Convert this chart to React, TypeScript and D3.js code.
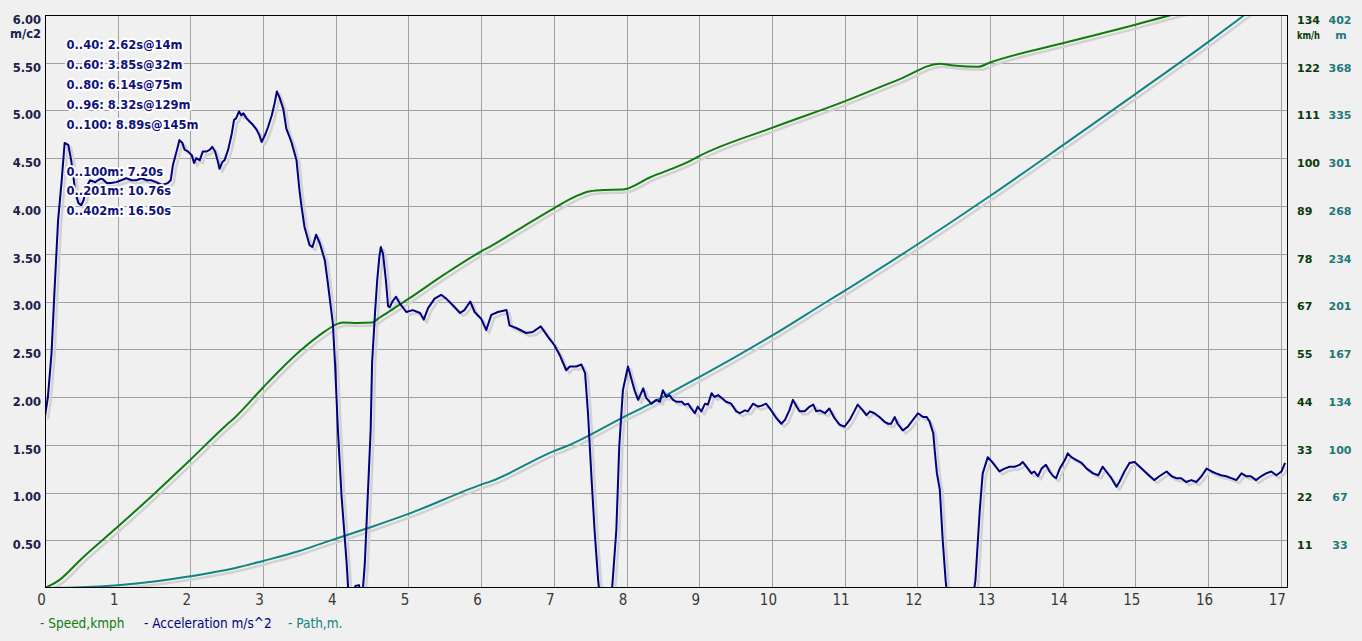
import React from "react";
import * as d3 from "d3";

const W = 1362;
const H = 641;

// ---- data ----
const timeTicks = [0, 1, 2, 3, 4, 5, 6, 7, 8, 9, 10, 11, 12, 13, 14, 15, 16, 17];
const accelTicks = [0.5, 1, 1.5, 2, 2.5, 3, 3.5, 4, 4.5, 5, 5.5, 6];
const speedTickLabels = ["11", "22", "33", "44", "55", "67", "78", "89", "100", "111", "122", "134"];
const pathTickLabels = ["33", "67", "100", "134", "167", "201", "234", "268", "301", "335", "368", "402"];
const splitLabels = [
  "0..40: 2.62s@14m",
  "0..60: 3.85s@32m",
  "0..80: 6.14s@75m",
  "0..96: 8.32s@129m",
  "0..100: 8.89s@145m",
];
const distanceLabels = ["0..100m: 7.20s", "0..201m: 10.76s", "0..402m: 16.50s"];
const legendLabels = ["- Speed,kmph", "- Acceleration m/s^2", "- Path,m."];

const speed: [number, number][] = [
  [0, 0], [0.2, 1.9], [0.5, 6.8], [1, 14.3], [1.5, 22], [2, 30], [2.5, 38.2], [2.62, 40],
  [3, 46.9], [3.5, 55.3], [3.85, 60], [4, 61.6], [4.1, 62.1], [4.3, 62], [4.5, 62.1],
  [4.6, 63.2], [5, 67.6], [5.5, 73.4], [6, 78.7], [6.14, 80], [6.5, 83.7], [7, 88.8],
  [7.3, 91.6], [7.5, 92.8], [7.7, 93.1], [7.95, 93.2], [8.32, 96], [8.89, 100], [9, 101],
  [10, 107.6], [11, 113.8], [11.76, 119], [12.31, 122.6], [12.5, 122.2], [12.84, 121.9],
  [13, 122.9], [14, 127.4], [15, 131.7], [15.47, 133.9], [16, 136], [17.1, 140.5],
];

const path: [number, number][] = [
  [0, 0], [0.5, 0.5], [1, 2], [1.5, 4.5], [2, 8.2], [2.62, 14], [3, 19], [3.5, 26],
  [3.85, 32], [4, 34.5], [4.5, 43], [5, 52], [6, 72.5], [6.14, 75], [7, 96], [7.2, 100],
  [8, 121], [8.32, 129], [8.89, 145], [9, 148], [10, 177], [10.76, 201], [11, 208.5],
  [12, 241], [13, 275], [14, 310.5], [15, 346.5], [16, 383], [16.5, 402], [17.1, 425],
];

const acceleration: [number, number][] = [
  [0, 1.8], [0.04, 2.0], [0.09, 2.46], [0.13, 3.1], [0.18, 3.85], [0.23, 4.27], [0.27, 4.66],
  [0.32, 4.64], [0.36, 4.48], [0.39, 4.31], [0.42, 4.13], [0.46, 4.03], [0.5, 4.01], [0.53, 4.06],
  [0.57, 4.2], [0.62, 4.27], [0.69, 4.25], [0.73, 4.27], [0.78, 4.29], [0.85, 4.24], [0.91, 4.24],
  [0.98, 4.25], [1.05, 4.27], [1.12, 4.29], [1.19, 4.27], [1.26, 4.27], [1.33, 4.29], [1.4, 4.27],
  [1.46, 4.27], [1.53, 4.25], [1.61, 4.22], [1.69, 4.24], [1.73, 4.27], [1.76, 4.43], [1.81, 4.57],
  [1.85, 4.69], [1.89, 4.66], [1.92, 4.59], [1.97, 4.57], [2.02, 4.53], [2.05, 4.45], [2.08, 4.5],
  [2.13, 4.48], [2.17, 4.57], [2.22, 4.57], [2.27, 4.59], [2.3, 4.62], [2.34, 4.57], [2.38, 4.46],
  [2.4, 4.39], [2.44, 4.46], [2.47, 4.48], [2.52, 4.59], [2.57, 4.76], [2.6, 4.9], [2.63, 4.92],
  [2.67, 4.99], [2.7, 4.95], [2.73, 4.97], [2.77, 4.92], [2.82, 4.88], [2.86, 4.85], [2.91, 4.8],
  [2.95, 4.74], [2.98, 4.67], [3.02, 4.73], [3.07, 4.83], [3.12, 4.95], [3.16, 5.08], [3.19, 5.2],
  [3.23, 5.13], [3.28, 5.01], [3.32, 4.81], [3.39, 4.67], [3.46, 4.48], [3.5, 4.17], [3.53, 3.99],
  [3.57, 3.78], [3.64, 3.59], [3.68, 3.57], [3.73, 3.7], [3.78, 3.61], [3.85, 3.43], [3.89, 3.2],
  [3.96, 2.77], [3.99, 2.35], [4.03, 1.65], [4.08, 0.96], [4.15, 0.26], [4.17, 0.0], [4.22, -0.15],
  [4.27, 0.02], [4.32, 0.03], [4.36, -0.15], [4.4, 0.26], [4.44, 0.96], [4.48, 1.65], [4.5, 2.36],
  [4.54, 2.88], [4.57, 3.22], [4.6, 3.47], [4.62, 3.57], [4.65, 3.5], [4.69, 3.22], [4.72, 2.95],
  [4.74, 2.94], [4.78, 3.0], [4.83, 3.05], [4.88, 2.98], [4.97, 2.89], [5.06, 2.91], [5.16, 2.88],
  [5.21, 2.81], [5.27, 2.93], [5.36, 3.03], [5.45, 3.07], [5.52, 3.03], [5.61, 2.96], [5.71, 2.88],
  [5.77, 2.91], [5.85, 3.0], [5.91, 2.89], [6.0, 2.82], [6.07, 2.7], [6.14, 2.86], [6.23, 2.89],
  [6.35, 2.91], [6.39, 2.75], [6.49, 2.72], [6.62, 2.67], [6.71, 2.68], [6.82, 2.74], [6.92, 2.63],
  [7.01, 2.54], [7.08, 2.44], [7.17, 2.28], [7.22, 2.32], [7.31, 2.32], [7.38, 2.34], [7.43, 2.25],
  [7.47, 1.83], [7.52, 1.13], [7.56, 0.61], [7.61, 0.08], [7.66, -0.3], [7.71, -0.5], [7.77, -0.3],
  [7.81, 0.08], [7.86, 0.61], [7.9, 1.48], [7.95, 2.07], [8.02, 2.32], [8.11, 2.07], [8.16, 1.97],
  [8.23, 2.09], [8.27, 1.99], [8.34, 1.93], [8.41, 1.97], [8.46, 1.95], [8.5, 2.07], [8.55, 2.0],
  [8.59, 2.02], [8.64, 1.97], [8.69, 1.95], [8.76, 1.95], [8.8, 1.92], [8.85, 1.93], [8.89, 1.88],
  [8.94, 1.83], [8.98, 1.9], [9.03, 1.85], [9.08, 1.93], [9.12, 1.92], [9.17, 2.04], [9.21, 2.0],
  [9.26, 2.02], [9.31, 1.99], [9.37, 1.95], [9.44, 1.93], [9.51, 1.85], [9.56, 1.83], [9.63, 1.86],
  [9.67, 1.85], [9.74, 1.93], [9.81, 1.9], [9.86, 1.91], [9.92, 1.93], [9.99, 1.86], [10.06, 1.78],
  [10.13, 1.72], [10.18, 1.76], [10.24, 1.86], [10.29, 1.97], [10.34, 1.9], [10.38, 1.85],
  [10.45, 1.85], [10.52, 1.9], [10.57, 1.92], [10.61, 1.85], [10.66, 1.86], [10.73, 1.83],
  [10.79, 1.88], [10.86, 1.78], [10.93, 1.71], [11.0, 1.69], [11.07, 1.76], [11.14, 1.86],
  [11.18, 1.92], [11.25, 1.86], [11.3, 1.81], [11.35, 1.85], [11.41, 1.83], [11.48, 1.79],
  [11.55, 1.74], [11.6, 1.72], [11.64, 1.72], [11.69, 1.79], [11.73, 1.72], [11.8, 1.65],
  [11.87, 1.69], [11.94, 1.76], [12.01, 1.83], [12.08, 1.79], [12.13, 1.79], [12.17, 1.74],
  [12.22, 1.62], [12.24, 1.44], [12.27, 1.2], [12.31, 1.03], [12.35, 0.5], [12.39, 0.08],
  [12.47, -0.5], [12.58, -0.8], [12.69, -0.5], [12.8, 0.08], [12.86, 0.82], [12.9, 1.2],
  [12.97, 1.37], [13.04, 1.31], [13.13, 1.22], [13.2, 1.25], [13.27, 1.27], [13.34, 1.27],
  [13.41, 1.29], [13.45, 1.32], [13.5, 1.27], [13.57, 1.2], [13.61, 1.22], [13.66, 1.17],
  [13.71, 1.25], [13.77, 1.29], [13.82, 1.22], [13.87, 1.17], [13.91, 1.15], [13.96, 1.25],
  [14.03, 1.34], [14.07, 1.41], [14.12, 1.37], [14.19, 1.34], [14.26, 1.31], [14.33, 1.25],
  [14.42, 1.2], [14.49, 1.18], [14.55, 1.27], [14.6, 1.22], [14.67, 1.15], [14.74, 1.06],
  [14.78, 1.11], [14.85, 1.22], [14.92, 1.31], [14.99, 1.32], [15.06, 1.27], [15.13, 1.22],
  [15.2, 1.17], [15.26, 1.13], [15.33, 1.17], [15.43, 1.22], [15.5, 1.17], [15.56, 1.15],
  [15.63, 1.15], [15.7, 1.11], [15.77, 1.13], [15.84, 1.11], [15.91, 1.17], [15.98, 1.25],
  [16.05, 1.22], [16.11, 1.2], [16.18, 1.18], [16.25, 1.17], [16.32, 1.15], [16.39, 1.13],
  [16.46, 1.2], [16.53, 1.17], [16.59, 1.17], [16.66, 1.13], [16.73, 1.17], [16.8, 1.2],
  [16.87, 1.22], [16.94, 1.18], [17.01, 1.22], [17.06, 1.31],
];

// ---- layout ----
const PL = 45;
const PR = 1288;
const PT = 15;
const PB = 588;

const BG = "#f0f0f0";
const GRID = "#a0a0a0";
const SHADOW = "#d2d2d2";
const C_SPEED = "#107c10";
const C_ACC = "#000080";
const C_PATH = "#108484";
const NUM_FONT = "'DejaVu Sans', Verdana, sans-serif";
const NARROW_FONT = "'DejaVu Sans Condensed', 'DejaVu Sans', sans-serif";

export default function App() {
  const x = d3.scaleLinear().domain([0, 17.1]).range([PL, PR]);
  const yA = d3.scaleLinear().domain([0, 6]).range([PB, PT]);
  const yS = d3.scaleLinear().domain([0, 134]).range([PB, PT]);
  const yP = d3.scaleLinear().domain([0, 402]).range([PB, PT]);

  const speedLine = d3.line<[number, number]>().x((d) => x(d[0])).y((d) => yS(d[1])).curve(d3.curveMonotoneX);
  const pathLine = d3.line<[number, number]>().x((d) => x(d[0])).y((d) => yP(d[1])).curve(d3.curveMonotoneX);
  const accLine = d3.line<[number, number]>().x((d) => x(d[0])).y((d) => yA(d[1])).curve(d3.curveLinear);

  const series = [
    { d: speedLine(speed) || "", color: C_SPEED },
    { d: pathLine(path) || "", color: C_PATH },
    { d: accLine(acceleration) || "", color: C_ACC },
  ];

  const legendX = [40, 144, 288];
  const legendColors = [C_SPEED, C_ACC, C_PATH];

  return (
    <svg
      width={W}
      height={H}
      viewBox={`0 0 ${W} ${H}`}
      style={{ position: "absolute", left: 0, top: 0, display: "block" }}
    >
      <defs>
        <clipPath id="plotClip">
          <rect x={PL} y={PT} width={PR - PL} height={PB - PT} />
        </clipPath>
      </defs>
      <rect x={0} y={0} width={W} height={H} fill={BG} />

      {/* grid */}
      <g shapeRendering="crispEdges">
        {timeTicks.filter((t) => t > 0).map((t) => (
          <line key={"vx" + t} x1={Math.round(x(t)) + 0.5} x2={Math.round(x(t)) + 0.5} y1={PT} y2={PB} stroke={GRID} strokeWidth={1} />
        ))}
        {accelTicks.filter((v) => v < 6).map((v) => (
          <line key={"hy" + v} x1={PL} x2={PR} y1={Math.round(yA(v)) + 0.5} y2={Math.round(yA(v)) + 0.5} stroke={GRID} strokeWidth={1} />
        ))}
      </g>

      {/* series with shadows */}
      <g clipPath="url(#plotClip)">
        {series.map((s, i) => (
          <path key={"sh" + i} d={s.d} transform="translate(3,3)" fill="none" stroke={SHADOW} strokeWidth={2.5} strokeLinejoin="round" />
        ))}
        {series.map((s, i) => (
          <path key={"ln" + i} d={s.d} fill="none" stroke={s.color} strokeWidth={2} strokeLinejoin="round" />
        ))}
      </g>

      {/* frame */}
      <rect x={PL + 0.5} y={PT + 0.5} width={PR - PL - 1} height={PB - PT - 1} fill="none" stroke="#000" strokeWidth={1.2} shapeRendering="crispEdges" />

      {/* left axis labels */}
      <g fontFamily={NUM_FONT} fontWeight="bold" fontSize={11.5} fill="#202048" textAnchor="end">
        {accelTicks.map((v) => (
          <text key={"la" + v} x={41} y={yA(v) + 8.8}>{d3.format(".2f")(v)}</text>
        ))}
        <text x={41} y={37.5}>m/c2</text>
      </g>

      {/* right axis labels */}
      <g fontFamily={NUM_FONT} fontWeight="bold" fontSize={11}>
        {speedTickLabels.map((lab, i) => (
          <text key={"rs" + lab} x={1297} y={yA(accelTicks[i]) + 8.8} fill="#0a3a0a">{lab}</text>
        ))}
        {pathTickLabels.map((lab, i) => (
          <text key={"rp" + lab} x={1340} y={yA(accelTicks[i]) + 8.8} fill="#1e7878" textAnchor="middle">{lab}</text>
        ))}
        <text x={1297} y={39} fill="#0a3a0a" textLength={23} lengthAdjust="spacingAndGlyphs">km/h</text>
        <text x={1341} y={39} fill="#1e7878" textAnchor="middle">m</text>
      </g>

      {/* x axis labels */}
      <g fontFamily={NARROW_FONT} fontSize={15} fill="#383838" textAnchor="middle" style={{ fontStretch: "condensed" }}>
        {timeTicks.map((t) => (
          <text key={"xt" + t} x={x(t) - 3.5} y={605}>{t}</text>
        ))}
      </g>

      {/* annotations */}
      <g fontFamily={NUM_FONT} fontWeight="bold" fontSize={11.5} fill="#10107c" stroke="#ffffff" strokeWidth={4} strokeLinejoin="round" style={{ paintOrder: "stroke" }}>
        {splitLabels.map((s, i) => (
          <text key={"sp" + i} x={66.5} y={49.2 + i * 20}>{s}</text>
        ))}
        {distanceLabels.map((s, i) => (
          <text key={"dl" + i} x={66.5} y={175.5 + i * 19.8}>{s}</text>
        ))}
      </g>

      {/* legend */}
      <g fontFamily={NARROW_FONT} fontSize={13.5} style={{ fontStretch: "condensed" }}>
        {legendLabels.map((s, i) => (
          <text key={"lg" + i} x={legendX[i]} y={628} fill={legendColors[i]}>{s}</text>
        ))}
      </g>
    </svg>
  );
}
